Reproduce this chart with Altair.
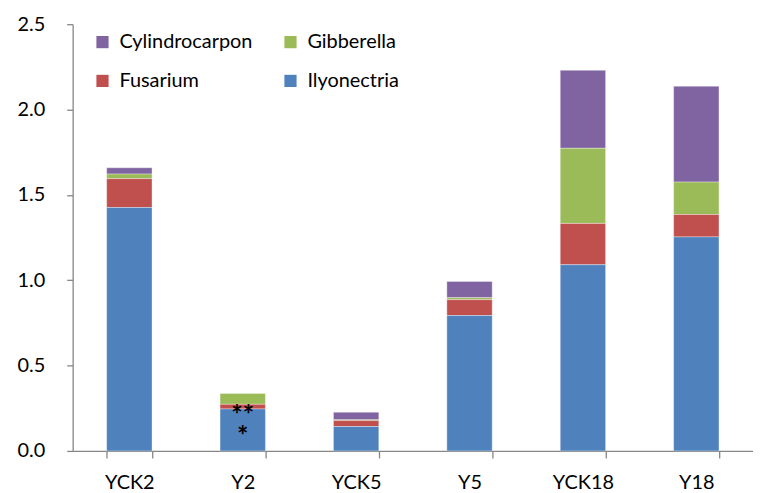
import altair as alt
import pandas as pd

samples = ["YCK2", "Y2", "YCK5", "Y5", "YCK18", "Y18"]
genera = ["Cylindrocarpon", "Gibberella", "Fusarium", "Ilyonectria"]
colors = ["#8064A2", "#9BBB59", "#C0504D", "#4F81BD"]

ilyonectria = [1.426, 0.246, 0.143, 0.793, 1.091, 1.254]
fusarium = [0.169, 0.027, 0.035, 0.093, 0.242, 0.131]
gibberella = [0.027, 0.064, 0.004, 0.012, 0.440, 0.190]
cylindrocarpon = [0.037, 0.000, 0.045, 0.095, 0.457, 0.562]

stack_order = {"Ilyonectria": 0, "Fusarium": 1, "Gibberella": 2, "Cylindrocarpon": 3}
series = {"Cylindrocarpon": cylindrocarpon, "Gibberella": gibberella,
          "Fusarium": fusarium, "Ilyonectria": ilyonectria}

rows = []
for g, vals in series.items():
    for s, v in zip(samples, vals):
        rows.append({"sample": s, "genus": g, "value": v, "ord": stack_order[g]})
df = pd.DataFrame(rows)

star_labels = ["**", "*"]
star_samples = ["Y2", "Y2"]
star_values = [0.245, 0.12]
stars = pd.DataFrame({"sample": star_samples, "label": star_labels, "value": star_values})

FONT = "Lato"

x = alt.X("sample:N", sort=samples, title=None,
          scale=alt.Scale(paddingInner=0.6, paddingOuter=0.3),
          axis=alt.Axis(labelAngle=0, labelFontSize=20, labelFont=FONT, labelColor="black",
                        domainColor="#868686", domainWidth=1.3, tickColor="#868686",
                        tickWidth=1.3, tickSize=7, tickBand="extent", labelPadding=15))

bars = alt.Chart(df).mark_bar(stroke="white", strokeWidth=0.6, strokeOpacity=0.6).encode(
    x=x,
    y=alt.Y("value:Q", stack="zero", title=None,
            scale=alt.Scale(domain=[0, 2.5], nice=False),
            axis=alt.Axis(values=[0, 0.5, 1.0, 1.5, 2.0, 2.5], format=".1f", grid=False,
                          labelFontSize=20, labelFont=FONT, labelColor="black",
                          domainColor="#868686", domainWidth=1.3, tickColor="#868686",
                          tickWidth=1.3, tickSize=6, labelPadding=22)),
    color=alt.Color("genus:N", sort=genera,
                    scale=alt.Scale(domain=genera, range=colors),
                    legend=alt.Legend(title=None, orient="none", legendX=20, legendY=8,
                                      columns=2, direction="horizontal",
                                      symbolType="square", symbolSize=150,
                                      symbolStrokeWidth=0, labelFontSize=20,
                                      labelFont=FONT, labelColor="black",
                                      columnPadding=28, rowPadding=19, labelOffset=7)),
    order=alt.Order("ord:Q"),
)

text = alt.Chart(stars).mark_text(fontSize=27, fontWeight="bold", color="black",
                                  font=FONT, baseline="middle", dy=7).encode(
    x=alt.X("sample:N", sort=samples),
    y=alt.Y("value:Q"),
    text="label:N",
)

chart = (bars + text).properties(
    width=684, height=429,
    autosize=alt.AutoSizeParams(type="none"),
    padding={"left": 65, "top": 15, "right": 0, "bottom": 40},
).configure_view(stroke=None)

chart.save("out.html", embed_options={"renderer": "svg", "actions": False})
